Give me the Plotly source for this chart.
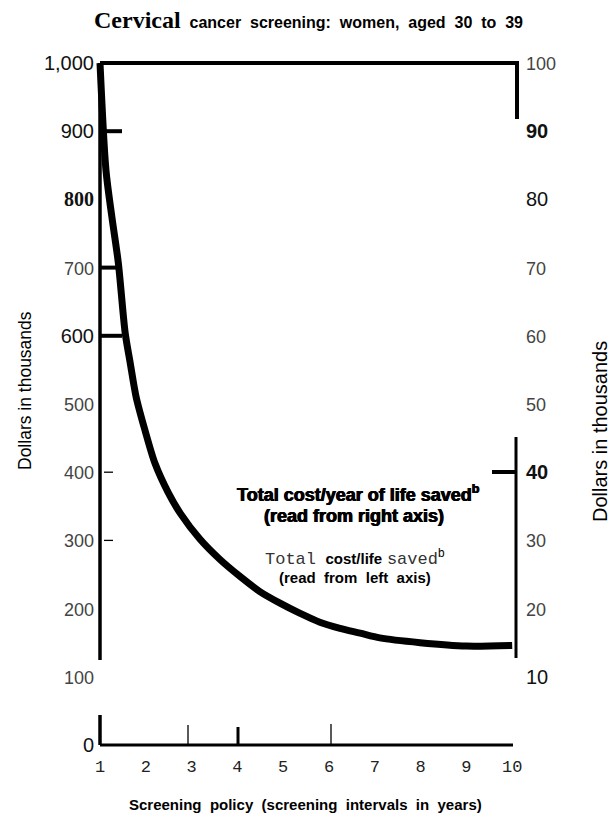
import plotly.graph_objects as go

# ---------------- data ----------------
policy_years = [1.0, 1.13, 1.26, 1.40, 1.55, 1.66, 1.79, 1.98, 2.20, 2.49, 2.75, 3.18,
                3.62, 4.06, 4.49, 4.93, 5.37, 5.80, 6.24, 6.68, 7.11, 7.99, 9.0, 10.0]
cost_per_life_saved = [1000, 843, 774, 707, 604, 560, 510, 462, 413, 370, 340, 302,
                       272, 247, 225, 208, 193, 180, 171, 164, 157, 150, 145, 146]

x_ticks = [1, 2, 3, 4, 5, 6, 7, 8, 9, 10]
left_ticks = [0, 100, 200, 300, 400, 500, 600, 700, 800, 900, 1000]
left_labels = ["0", "100", "200", "300", "400", "500", "600", "700", "800", "900", "1,000"]
right_ticks = [10, 20, 30, 40, 50, 60, 70, 80, 90, 100]
right_labels = ["10", "20", "30", "40", "50", "60", "70", "80", "90", "100"]

# ---------------- geometry (reference pixel coordinates) ----------------
PAGE_W, PAGE_H = 616, 814
BODY = 8                       # default html body margin
W, H = PAGE_W - BODY, PAGE_H - BODY
PX_X = 45.8      # pixels per year
PX_Y = 0.682     # pixels per $1000
X0_PX, Y0_PX = 100, 745  # page pixel of (1, 0)


def px2x(px):
    return 1 + (px - X0_PX) / PX_X


def py2v(py):
    return (Y0_PX - py) / PX_Y


PL, PR, PT, PB = 96, 522, 55, 752   # plot area in page pixels
L, T = PL - BODY, PT - BODY
R, B = PAGE_W - PR, PAGE_H - PB
x_range = [px2x(PL), px2x(PR)]
y_range = [py2v(PB), py2v(PT)]

SANS = "Liberation Sans, Arial, sans-serif"
SERIF = "Liberation Serif, Times New Roman, serif"
MONO = "Liberation Mono, Courier New, monospace"

thin = {"100", "200", "300", "400", "500", "700", "20", "30", "50", "60", "70"}


def style_label(s, big):
    if s == "800":
        return f"<span style='font-family:{SERIF}'><b>{s}</b></span>"
    if s in ("90", "40"):
        return f"<b>{s}</b>"
    if s in thin:
        return f"<span style='color:#444;font-size:18px'>{s}</span>"
    return s


fig = go.Figure()
fig.add_trace(go.Scatter(
    x=policy_years, y=cost_per_life_saved, mode="lines",
    line=dict(color="black", width=7, shape="spline", smoothing=0.8),
    hoverinfo="skip", showlegend=False))
fig.add_trace(go.Scatter(x=[5], y=[50], yaxis="y2", mode="markers",
                         marker=dict(opacity=0), showlegend=False, hoverinfo="skip"))

fig.update_layout(
    width=W, height=H,
    margin=dict(l=L, r=R, t=T, b=B),
    paper_bgcolor="white", plot_bgcolor="white",
    xaxis=dict(range=x_range, tickvals=x_ticks, ticktext=[str(v) for v in x_ticks],
               showgrid=False, zeroline=False, showline=False, ticks="",
               tickfont=dict(family=MONO, size=17, color="#222"), ticklabelstandoff=2),
    yaxis=dict(range=y_range, tickvals=left_ticks,
               ticktext=[style_label(s, True) for s in left_labels],
               showgrid=False, zeroline=False, showline=False, ticks="",
               tickfont=dict(family=SANS, size=20, color="#111"), ticklabelstandoff=1),
    yaxis2=dict(range=[v / 10 for v in y_range], tickvals=right_ticks,
                ticktext=[style_label(s, False) for s in right_labels],
                overlaying="y", side="right",
                showgrid=False, zeroline=False, showline=False, ticks="",
                tickfont=dict(family=SANS, size=20, color="#111"), ticklabelstandoff=3),
)

shapes = []


def seg(x0, y0, x1, y1, w, color="black"):
    shapes.append(dict(type="line", xref="x", yref="y", x0=x0, y0=y0, x1=x1, y1=y1,
                       line=dict(color=color, width=w)))


# frame pieces
seg(px2x(100), 1000, px2x(517), 1000, 4)                     # top border
seg(px2x(517), 1000 + 2 / PX_Y, px2x(517), py2v(119), 4)     # right upper
seg(px2x(516), py2v(437), px2x(516), py2v(658), 3)           # right lower
seg(px2x(492), py2v(472), px2x(516), py2v(472), 4)           # right tick at 40
seg(px2x(100), 1000, px2x(100), py2v(660), 3.5)              # left axis
seg(px2x(100), py2v(715), px2x(100), 0, 3.5)                 # left stub near 0
seg(px2x(100), 0, px2x(513), 0, 3)                           # x axis line
for v in (900, 700, 600):
    seg(px2x(100), v, px2x(122), v, 4)
for v in (400, 300):
    seg(px2x(104), v, px2x(113), v, 1.3)
# x axis tick marks
seg(px2x(188), 0, px2x(188), py2v(725), 1.3)
seg(px2x(238), 0, px2x(238), py2v(727), 3)
seg(px2x(331), 0, px2x(331), py2v(724), 1.3)

fig.update_layout(shapes=shapes)

NB = "\u00a0 "
ann = []


def pa(px, py, text, size, family=SANS, color="black", angle=0, shadow=None):
    f = dict(family=family, size=size, color=color)
    if shadow:
        f["shadow"] = shadow
    ann.append(dict(xref="paper", yref="paper",
                    x=(px - PL) / (PR - PL), y=1 - (py - PT) / (PB - PT),
                    text=text, showarrow=False, textangle=angle,
                    xanchor="center", yanchor="middle", font=f))


HEAVY = "0.5px 0 0 black, -0.5px 0 0 black"

# title
pa(308, 20,
   f"<span style='font-family:{SERIF};font-size:24px'><b>Cervical</b></span>{NB}"
   + NB.join(["<b>cancer</b>", "<b>screening:</b>", "<b>women,</b>", "<b>aged</b>",
              "<b>30</b>", "<b>to</b>", "<b>39</b>"]), 16)
# x title
pa(305, 805, NB.join(["<b>Screening</b>", "<b>policy</b>", "<b>(screening</b>",
                      "<b>intervals</b>", "<b>in</b>", "<b>years)</b>"]), 15)
# y titles
pa(25, 391, "Dollars in thousands", 17.5, angle=-90)
pa(600, 432, "Dollars in thousands", 20, angle=-90)

# in-plot labels
pa(358, 493, "<b>Total cost/year of life saved<sup>b</sup></b>", 18, shadow=HEAVY)
pa(354, 516, "<b>(read from right axis)</b>", 18, shadow=HEAVY)
pa(355, 557,
   f"<span style='font-family:{MONO};color:#333'>Total</span>{NB}"
   f"<span style='font-size:15px'><b>cost/life</b></span> "
   f"<span style='font-family:{MONO};color:#333'>saved</span><sup>b</sup>", 17)
pa(355, 577, NB.join(["<b>(read</b>", "<b>from</b>", "<b>left</b>", "<b>axis)</b>"]), 15)

fig.update_layout(annotations=ann)
fig.write_html("out.html")
